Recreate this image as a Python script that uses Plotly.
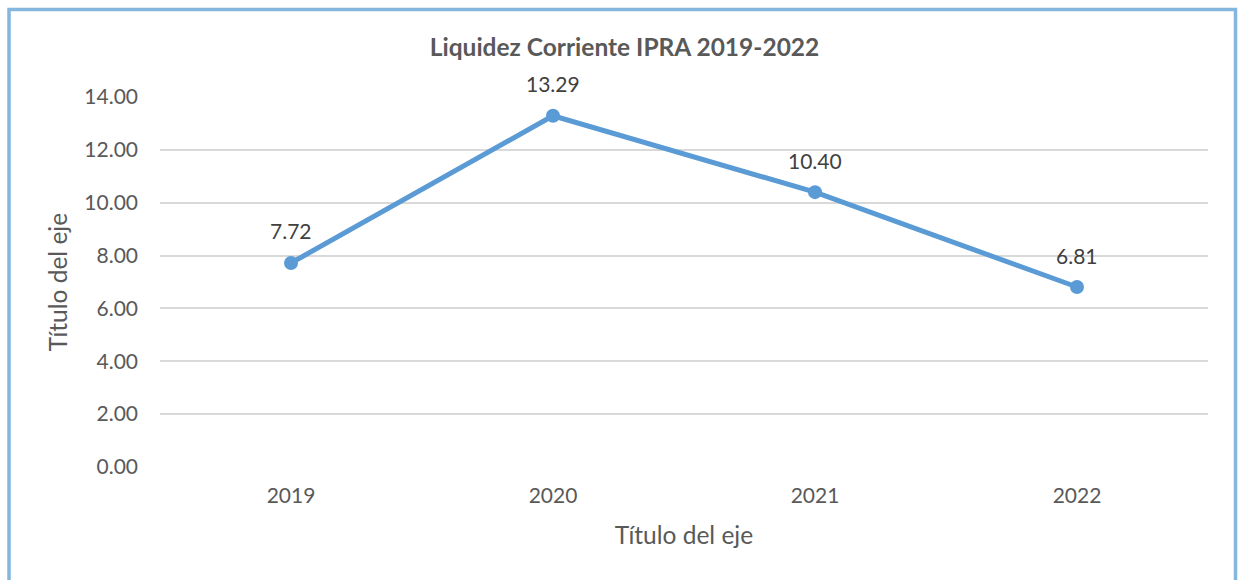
import plotly.graph_objects as go

categories = ["2019", "2020", "2021", "2022"]
values = [7.72, 13.29, 10.40, 6.81]
y_ticks = [0, 2, 4, 6, 8, 10, 12, 14]
y_tick_labels = ["0.00", "2.00", "4.00", "6.00", "8.00", "10.00", "12.00", "14.00"]
title_text = "Liquidez Corriente IPRA 2019-2022"
x_title = "Título del eje"
y_title = "Título del eje"

FONT = "Lato"
LINE_COLOR = "#5B9BD5"
TEXT_COLOR = "#595959"

fig = go.Figure()
fig.add_trace(go.Scatter(
    x=list(range(len(categories))), y=values, mode="lines+markers",
    line=dict(color=LINE_COLOR, width=5),
    marker=dict(color=LINE_COLOR, size=14),
    hoverinfo="skip", showlegend=False,
))

for i, v in enumerate(values):
    fig.add_annotation(x=i, y=v, xref="x", yref="y", text=f"{v:.2f}", showarrow=False,
                       yshift=32, font=dict(family=FONT, size=21, color="#404040"))

L, R, T, B = 160, 30, 97, 113
W, H = 1238, 580
pw, ph = W - L - R, H - T - B

def px(x):
    return (x - L) / pw

def py(y):
    return (H - B - y) / ph

fig.add_shape(type="rect", xref="paper", yref="paper",
              x0=px(9), x1=px(1235.5), y0=py(600), y1=py(9.5),
              line=dict(color="#83B7DE", width=3.5), layer="below")

fig.update_layout(
    width=W, height=H,
    margin=dict(l=L, r=R, t=T, b=B),
    paper_bgcolor="white", plot_bgcolor="white",
    title=dict(text=f"<b>{title_text}</b>", x=624.5 / W, xanchor="center",
               y=1 - 47 / H, yanchor="middle",
               font=dict(family=FONT, size=24.5, color=TEXT_COLOR)),
    font=dict(family=FONT, color=TEXT_COLOR),
    xaxis=dict(range=[-0.5, 3.5], tickvals=list(range(len(categories))),
               ticktext=categories, showgrid=False,
               showline=False, zeroline=False, ticks="",
               tickfont=dict(family=FONT, size=21, color=TEXT_COLOR),
               ticklabelstandoff=14,
               title=dict(text=x_title, font=dict(family=FONT, size=24.5, color=TEXT_COLOR),
                          standoff=20)),
    yaxis=dict(range=[0, 14], tickvals=y_ticks, ticktext=y_tick_labels,
               showgrid=True, gridcolor="#D9D9D9", gridwidth=1.5,
               zeroline=False, showline=False, ticks="",
               tickfont=dict(family=FONT, size=21, color=TEXT_COLOR),
               ticklabelstandoff=21,
               title=dict(text=y_title, font=dict(family=FONT, size=24.5, color=TEXT_COLOR),
                          standoff=9)),
)

fig.write_html("out.html", config={"displayModeBar": False},
               post_script="document.body.style.margin='0';")
